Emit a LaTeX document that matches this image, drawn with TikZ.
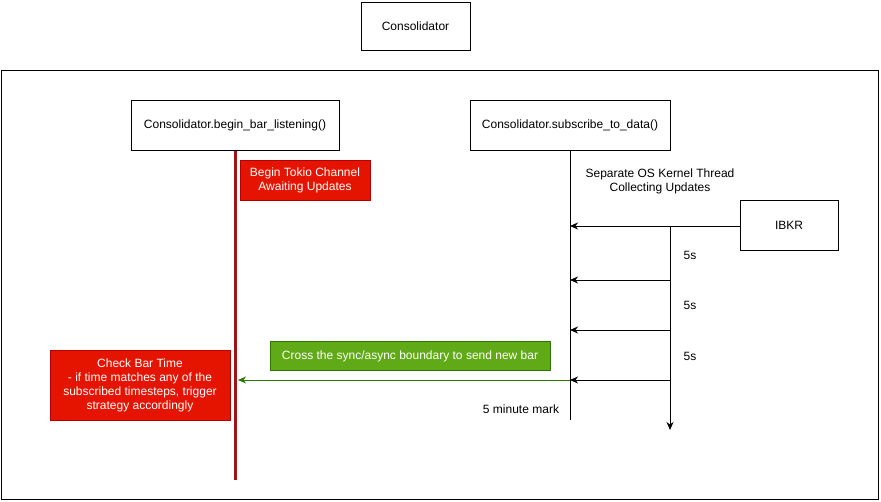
\documentclass[tikz,border=0pt]{standalone}
\usepackage{fontspec}
\setmainfont{Liberation Sans}
\usetikzlibrary{arrows.meta}
\definecolor{notered}{HTML}{E51400}
\definecolor{noteredline}{HTML}{B20000}
\definecolor{lifered}{HTML}{A3121C}
\definecolor{notegreen}{HTML}{60A917}
\definecolor{notegreenline}{HTML}{2D7600}
\begin{document}
\begin{tikzpicture}[x=1pt, y=-1pt, font=\fontsize{12}{14}\selectfont,
	box/.style={shape=rectangle, draw=black, fill=white, line width=1pt, inner sep=0pt},
	rednote/.style={shape=rectangle, draw=noteredline, fill=notered, text=white, inner sep=0pt, align=center},
	greennote/.style={shape=rectangle, draw=notegreenline, fill=notegreen, text=white, inner sep=0pt},
	msg/.style={line width=1pt, -{Stealth[length=8pt, width=7pt, inset=2.5pt]}}]
	\useasboundingbox (0,0) rectangle (881,501);
	\node (cons) at (415.5,26) [box, minimum width=109pt, minimum height=48pt] {Consolidator};
	\draw [line width=1pt] (1,70) rectangle (878,499);
	\node (listen) at (235,125) [box, minimum width=208pt, minimum height=50pt] {Consolidator.begin\_bar\_listening()};
	\node (sub) at (570,125) [box, minimum width=200pt, minimum height=50pt] {Consolidator.subscribe\_to\_data()};
	\coordinate (listenend) at (235,480);
	\coordinate (subend) at (570,420);
	\draw [lifered, line width=3pt] (listen.south) -- (listenend);
	\draw [line width=1pt] (sub.south) -- (subend);
	\node (tokio) at (305,180) [rednote, minimum width=130pt, minimum height=40pt] {Begin Tokio Channel\\Awaiting Updates};
	\node (thread) at (660,181) [align=center] {Separate OS Kernel Thread\\Collecting Updates};
	\node (ibkr) at (789,225) [box, minimum width=98pt, minimum height=50pt] {IBKR};
	% update ticks on the kernel thread
	\coordinate (tick0) at (670,226);
	\coordinate (tick1) at (670,280);
	\coordinate (tick2) at (670,330);
	\coordinate (tick3) at (670,380);
	\coordinate (tickend) at (670,430);
	\draw [msg] (ibkr.west |- tick0) -- (tick0 -| sub.south);
	\draw [msg] (tick0) -- (tickend);
	\draw [msg] (tick1) -- (tick1 -| sub.south);
	\draw [msg] (tick2) -- (tick2 -| sub.south);
	\draw [msg] (tick3) -- (tick3 -| sub.south);
	\node (gap1) at (690,255) {5s};
	\node (gap2) at (690,305) {5s};
	\node (gap3) at (690,356) {5s};
	% new bar crosses over
	\draw [msg, notegreenline, shorten >=3pt] (tick3 -| sub.south) -- (tick3 -| listen.south);
	\node (cross) at (410,356) [greennote, minimum width=280pt, minimum height=29pt] {Cross the sync/async boundary to send new bar};
	\node (check) at (140,385) [rednote, minimum width=180pt, minimum height=70pt] {Check Bar Time\\- if time matches any of the\\subscribed timesteps, trigger\\strategy accordingly};
	\node (mark) at (521,409) {5 minute mark};
\end{tikzpicture}
\end{document}
